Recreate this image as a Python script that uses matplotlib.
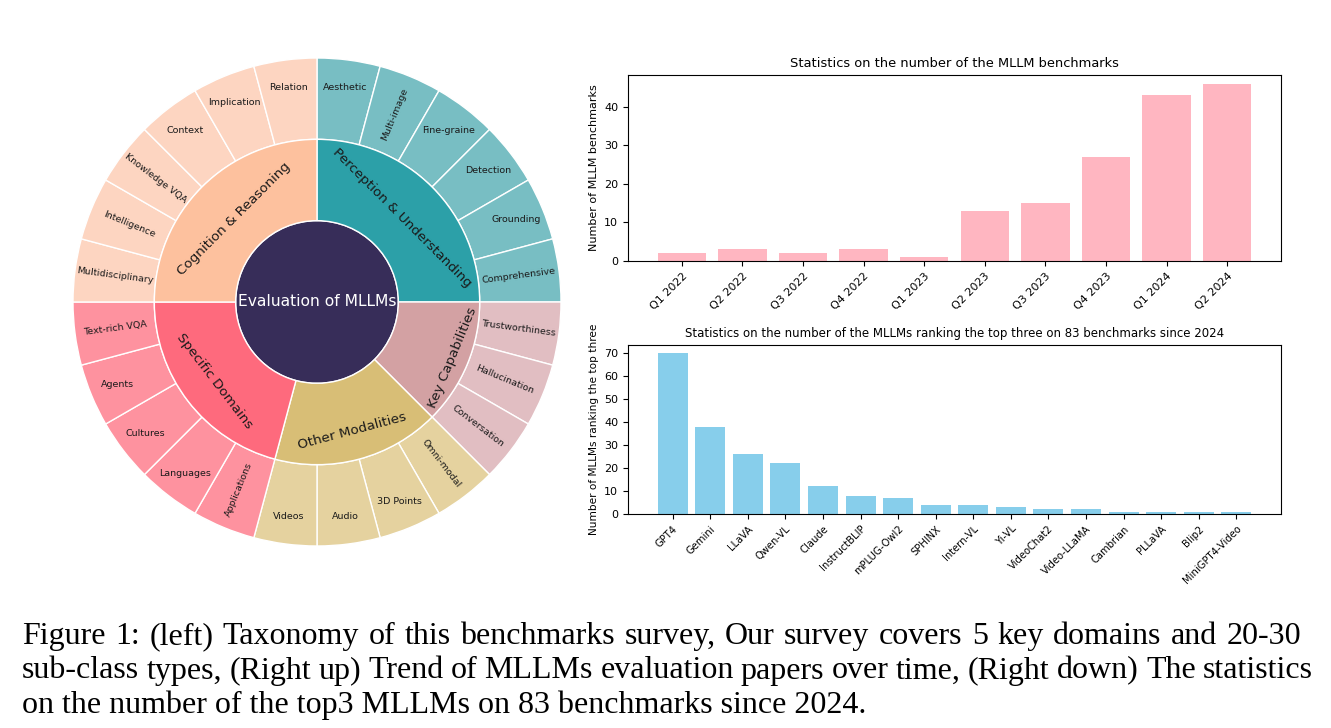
import numpy as np
import matplotlib
matplotlib.use("Agg")
import matplotlib.pyplot as plt
from matplotlib.patches import Wedge
from matplotlib.ticker import MultipleLocator

# ---- taxonomy (sunburst) data, clockwise from 12 o'clock ----
domains = ["Perception & Understanding", "Key Capabilities", "Other Modalities",
           "Specific Domains", "Cognition & Reasoning"]
domain_leaves = [
    ["Aesthetic", "Multi-image", "Fine-graine", "Detection", "Grounding", "Comprehensive"],
    ["Trustworthiness", "Hallucination", "Conversation"],
    ["Omni-modal", "3D Points", "Audio", "Videos"],
    ["Applications", "Languages", "Cultures", "Agents", "Text-rich VQA"],
    ["Multidisciplinary", "Intelligence", "Knowledge VQA", "Context", "Implication", "Relation"],
]
root_label = "Evaluation of MLLMs"

# ---- right-hand bar charts ----
quarters = ["Q1 2022", "Q2 2022", "Q3 2022", "Q4 2022", "Q1 2023",
            "Q2 2023", "Q3 2023", "Q4 2023", "Q1 2024", "Q2 2024"]
benchmark_counts = [2, 3, 2, 3, 1, 13, 15, 27, 43, 46]

models = ["GPT4", "Gemini", "LLaVA", "Qwen-VL", "Claude", "InstructBLIP", "mPLUG-Owl2",
          "SPHINX", "Intern-VL", "Yi-VL", "VideoChat2", "Video-LLaMA", "Cambrian",
          "PLLaVA", "Blip2", "MiniGPT4-Video"]
top3_counts = [70, 38, 26, 22, 12, 8, 7, 4, 4, 3, 2, 2, 1, 1, 1, 1]

caption_lines = [
    "Figure 1: (left) Taxonomy of this benchmarks survey, Our survey covers 5 key domains and 20-30",
    "sub-class types, (Right up) Trend of MLLMs evaluation papers over time, (Right down) The statistics",
    "on the number of the top3 MLLMs on 83 benchmarks since 2024.",
]
caption_right = [1301, 1313, None]   # justified lines end here (pixels), None = ragged

# styling
mid_colors = ["#2CA0A8", "#D3A1A3", "#D8BE76", "#FE6A7D", "#FDC19E"]
leaf_colors = ["#78BEC3", "#E1BEC2", "#E5D29F", "#FE929F", "#FDD5C1"]
root_color = "#372D59"
mid_text_r = [0.49, 0.60, 0.55, 0.53, 0.48]
leaf_mode = [
    ["h", "r", "h", "h", "h", "r"],
    ["r", "r", "r"],
    ["r", "h", "h", "h"],
    ["r", "h", "h", "h", "r"],
    ["r", "r", "r", "h", "h", "h"],
]

W, H = 1331, 728
fig = plt.figure(figsize=(W / 100, H / 100), dpi=100)

# ---------- sunburst ----------
cx, cy, R = 317, 302, 244
ax0 = fig.add_axes([(cx - R) / W, 1 - (cy + R) / H, 2 * R / W, 2 * R / H])
ax0.set_xlim(-1, 1)
ax0.set_ylim(-1, 1)
ax0.axis("off")

r0, r1, r2 = 1 / 3, 2 / 3, 1.0
n_leaves = sum(len(l) for l in domain_leaves)
step = 360.0 / n_leaves


def norm(a):
    return (a + 180) % 360 - 180


ax0.add_patch(Wedge((0, 0), r0, 0, 360, facecolor=root_color, edgecolor="white", lw=1))
ax0.text(0, 0, root_label, ha="center", va="center", color="white", fontsize=11.2)

angle = 90.0
for d, leaves in enumerate(domain_leaves):
    start = angle
    for k, leaf in enumerate(leaves):
        a1 = angle - step
        ax0.add_patch(Wedge((0, 0), r2, a1, angle, width=r2 - r1,
                            facecolor=leaf_colors[d], edgecolor="white", lw=1))
        mid = np.deg2rad((a1 + angle) / 2)
        th = norm((a1 + angle) / 2)
        if leaf_mode[d][k] == "h":
            rr, rot = 0.885, 0
        else:
            rr = 0.833
            rot = th
            if rot > 90:
                rot -= 180
            elif rot < -90:
                rot += 180
        ax0.text(rr * np.cos(mid), rr * np.sin(mid), leaf, ha="center", va="center",
                 rotation=rot, rotation_mode="anchor", fontsize=6.8, color="#1a1a1a")
        angle = a1
    end = angle
    ax0.add_patch(Wedge((0, 0), r1, end, start, width=r1 - r0,
                        facecolor=mid_colors[d], edgecolor="white", lw=1))
    cm = (start + end) / 2
    rot = norm(cm - 90)
    if rot > 90:
        rot -= 180
    elif rot <= -90:
        rot += 180
    rr = mid_text_r[d]
    ax0.text(rr * np.cos(np.deg2rad(cm)), rr * np.sin(np.deg2rad(cm)), domains[d],
             ha="center", va="center", rotation=rot, rotation_mode="anchor",
             fontsize=9.7, color="#1a1a1a")

# ---------- top bar chart ----------
ax1 = fig.add_axes([628 / W, 1 - 261 / H, 653 / W, 186 / H])
ax1.bar(quarters, benchmark_counts, color="lightpink")
ax1.set_title("Statistics on the number of the MLLM benchmarks", fontsize=9.4)
ax1.set_ylabel("Number of MLLM benchmarks", fontsize=8)
ax1.tick_params(labelsize=8)
plt.setp(ax1.get_xticklabels(), rotation=45, ha="right", rotation_mode="anchor")

# ---------- bottom bar chart ----------
ax2 = fig.add_axes([628 / W, 1 - 514 / H, 653 / W, 169 / H])
ax2.bar(models, top3_counts, color="skyblue")
ax2.set_title("Statistics on the number of the MLLMs ranking the top three on 83 benchmarks since 2024",
              fontsize=8.5)
ax2.set_ylabel("Number of MLLMs ranking the top three", fontsize=7.6)
ax2.yaxis.set_major_locator(MultipleLocator(10))
ax2.tick_params(labelsize=8)
ax2.tick_params(axis="x", labelsize=7.2)
plt.setp(ax2.get_xticklabels(), rotation=45, ha="right", rotation_mode="anchor")

# ---------- caption (justified like the LaTeX original) ----------
renderer = fig.canvas.get_renderer()
cap_size = 23.0
x_left = 22
for i, line in enumerate(caption_lines):
    y = 1 - (644 + 34.5 * i) / H
    if caption_right[i] is None:
        fig.text(x_left / W, y, line, ha="left", va="baseline",
                 fontsize=cap_size, family="Liberation Serif")
        continue
    words = line.split(" ")
    texts = [fig.text(0, y, w, ha="left", va="baseline", fontsize=cap_size,
                      family="Liberation Serif") for w in words]
    widths = [t.get_window_extent(renderer).width for t in texts]
    gap = (caption_right[i] - x_left - sum(widths)) / (len(words) - 1)
    x = x_left
    for t, wd in zip(texts, widths):
        t.set_x(x / W)
        x += wd + gap

fig.savefig("out.png", dpi=100)
